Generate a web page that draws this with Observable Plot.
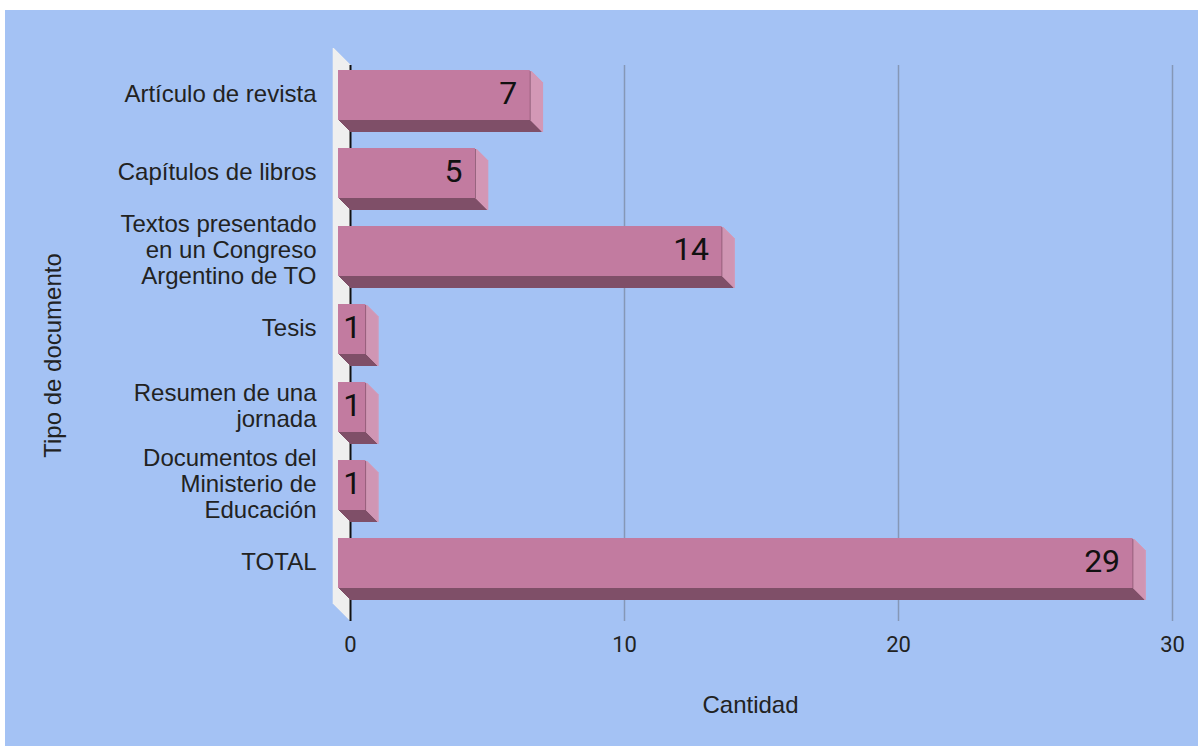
<!DOCTYPE html>
<html>
<head>
<meta charset="utf-8">
<script src="https://cdn.jsdelivr.net/npm/d3@7"></script>
<script src="https://cdn.jsdelivr.net/npm/@observablehq/plot@0.6"></script>
<style>
  html, body { margin: 0; padding: 0; background: #ffffff; }
  #chart { position: absolute; left: 5px; top: 10px; width: 1193px; height: 736px; background: #a4c2f4; }
</style>
</head>
<body>
<div id="chart"></div>
<script>
// ---- data ----
const categories = [
  "Artículo de revista",
  "Capítulos de libros",
  "Textos presentado\nen un Congreso\nArgentino de TO",
  "Tesis",
  "Resumen de una\njornada",
  "Documentos del\nMinisterio de\nEducación",
  "TOTAL"
];
const values = [7, 5, 14, 1, 1, 1, 29];
const xTicks = [0, 10, 20, 30];
const xTitle = "Cantidad";
const yTitle = "Tipo de documento";

const data = categories.map((c, i) => ({cat: c, value: values[i]}));

// ---- styles ----
const bg = "#a4c2f4";
const frontColor = "#c27ba0";
const darkColor = "#7f4f68";
const sideColor = "#d398b6";
const wallColor = "#efefef";
const gridColor = "#8597b6";
const textColor = "#222222";
const depth = 12;      // bar extrusion in px
const wallDepth = 17;  // back wall thickness in px
const offsets = d3.range(1, depth + 1);
const wallOffsets = d3.range(1, wallDepth + 1);

const wide = d => d.value >= 3;

const chart = Plot.plot({
  width: 1193,
  height: 736,
  marginLeft: 345,
  marginRight: 26,
  marginTop: 55,
  marginBottom: 125,
  style: {background: bg, fontFamily: "Liberation Sans, Arial, sans-serif", overflow: "visible"},
  x: {domain: [0, 30], label: null},
  y: {domain: categories, range: [44, 618], paddingInner: 0.359, paddingOuter: 0.359, align: 0.5, round: false, label: null},
  marks: [
    // back wall
    ...wallOffsets.map(k => Plot.ruleX([0], {dx: -k, dy: -k, stroke: wallColor, strokeWidth: 1.6})),
    // grid
    Plot.ruleX(xTicks.filter(t => t > 0), {stroke: gridColor, strokeWidth: 1.5}),
    // baseline axis
    Plot.ruleX([0], {stroke: "#111111", strokeWidth: 2}),
    // extrusion (bottom face)
    ...offsets.map(k => Plot.barX(data, {x: "value", y: "cat", fill: darkColor, dx: k - depth, dy: k - depth})),
    // side face
    ...offsets.map(k => Plot.tickX(data, {x: "value", y: "cat", stroke: sideColor, strokeWidth: 1.6, dx: k - depth, dy: k - depth})),
    // front face
    Plot.barX(data, {x: "value", y: "cat", fill: frontColor, dx: -depth, dy: -depth}),
    // value labels
    Plot.text(data.filter(wide), {
      x: "value", y: "cat", text: d => String(d.value),
      textAnchor: "end", dx: -25, dy: -14,
      fontSize: 32, fontFamily: "Roboto", fill: "#111111"
    }),
    Plot.text(data.filter(d => !wide(d)), {
      x: d => d.value / 2, y: "cat", text: d => String(d.value),
      textAnchor: "middle", dx: -depth, dy: -14,
      fontSize: 32, fontFamily: "Roboto", fill: "#111111"
    }),
    // axes
    Plot.axisX({ticks: xTicks, tickSize: 0, tickPadding: 15, fontSize: 22, fontFamily: "Roboto", color: textColor, label: null}),
    Plot.axisY({tickSize: 0, tickPadding: 22, dx: -depth, dy: -14, fontSize: 24, lineHeight: 1.085, color: textColor, label: null}),
    // titles
    Plot.text([xTitle], {frameAnchor: "bottom", textAnchor: "middle", lineAnchor: "middle", dx: -11, dy: 84, fontSize: 24, fill: textColor}),
    Plot.text([yTitle], {frameAnchor: "left", rotate: -90, textAnchor: "middle", lineAnchor: "middle", dx: -297, dy: 12, fontSize: 24, fill: textColor})
  ]
});

document.getElementById("chart").appendChild(chart);
</script>
</body>
</html>
